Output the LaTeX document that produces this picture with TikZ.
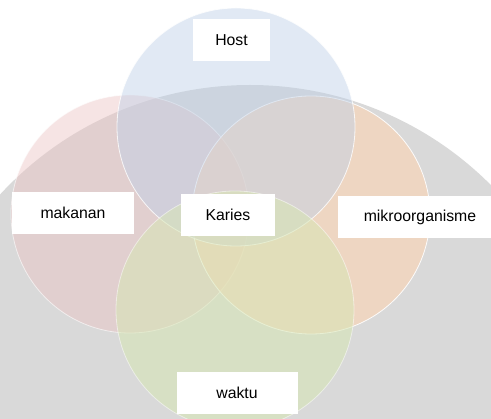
\documentclass[tikz,border=0pt]{standalone}
\usepackage{fontspec}
\setmainfont{Liberation Sans}
\usepackage{tikz}
\usetikzlibrary{positioning}
\definecolor{sealgray}{RGB}{217,217,217}
\definecolor{hostblue}{RGB}{190,208,232}
\definecolor{foodred}{RGB}{236,196,196}
\definecolor{microorange}{RGB}{252,213,180}
\definecolor{timegreen}{RGB}{215,230,180}
\tikzset{venn circle/.style={circle, minimum size=238pt, inner sep=0pt,
    draw=white, line width=0.8pt}}
\tikzset{label box/.style={rectangle, fill=white, inner sep=0pt,
    minimum height=42pt, font=\fontsize{15.8}{19}\selectfont}}

\begin{document}
\begin{tikzpicture}
      [x=1pt, y=-1pt]
      \useasboundingbox (0,0) rectangle (491,419);
      \clip (0,0) rectangle (491,419);
      \fill [white] (0,0) rectangle (491,419);
      % seal in the background
      \fill [sealgray] (250,425) circle (340pt);

      \node [venn circle, fill=foodred, fill opacity=0.45, draw opacity=0.6]    (food)  at (130,214) {};
      \node [venn circle, fill=microorange, fill opacity=0.6, draw opacity=0.9] (micro) at (311,215) {};
      \node [venn circle, fill=hostblue, fill opacity=0.45, draw opacity=0.8]   (host)  at (236,127) {};
      \node [venn circle, fill=timegreen, fill opacity=0.55, draw opacity=0.5]  (time)  at (235,310) {};

      \node [label box, minimum width=77pt]  (hostlabel)  at (231.5,40) {Host};
      \node [label box, minimum width=122pt] (foodlabel)  at (73,213)   {makanan};
      \node [label box, minimum width=94pt]  (karies)     at (228,215)  {Karies};
      \node [label box, minimum width=164pt] (microlabel) at (420,217)  {mikroorganisme};
      \node [label box, minimum width=121pt] (timelabel)  at (237,393)  {waktu};
\end{tikzpicture}
\end{document}
